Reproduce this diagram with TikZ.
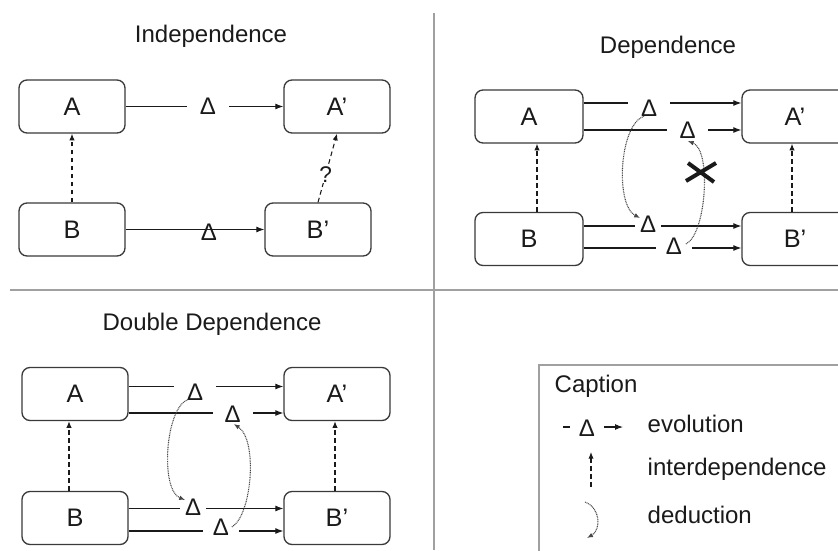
\documentclass[tikz,border=0pt]{standalone}
\usepackage{fontspec}
\setmainfont{Liberation Sans}
\usetikzlibrary{calc,arrows.meta}
\definecolor{ink}{HTML}{1A1A1A}
\definecolor{boxline}{HTML}{3A3A3A}
\definecolor{divgray}{HTML}{A0A0A0}
\tikzset{
  box/.style={draw=boxline, line width=1pt, rounded corners=6pt, minimum width=79.5pt, minimum height=39.75pt, inner sep=0pt, font=\fontsize{19}{19}\selectfont, text=ink},
  ttl/.style={anchor=base, font=\fontsize{18}{18}\selectfont, text=ink},
  evo/.style={draw=ink, line width=0.8pt, -{Latex[length=6pt,width=4.5pt]}},
  dl/.style={fill=white, inner ysep=1pt, font=\fontsize{18}{18}\selectfont, text=ink},
  dep/.style={draw=ink, line width=0.8pt, dash pattern=on 3.5pt off 2.5pt, -{Latex[length=5pt,width=4pt]}},
  ded/.style={draw=gray!55!black, line width=0.8pt, dash pattern=on 0.7pt off 0.6pt, -{Latex[length=4.5pt,width=3.5pt]}},
  lgd/.style={anchor=base west, font=\fontsize{18}{18}\selectfont, text=ink},
  divider/.style={draw=divgray, line width=1.1pt},
}
\begin{document}
\begin{tikzpicture}[x=0.75pt,y=-0.75pt]
\useasboundingbox (0,0) rectangle (838,550);
\clip (0,0) rectangle (838,550);
\fill[white] (0,0) rectangle (838,550);

% dividers
\draw[divider] (434,13) -- (434,550);
\draw[divider] (10,290) -- (838,290);

% ---------- Panel 1: Independence ----------
\node[ttl] (t1) at (211,42) {Independence};
\node[box] (A1) at (72,106.5) {A};
\node[box] (Ap1) at (337,106.5) {A’};
\node[box] (B1) at (72,229.5) {B};
\node[box] (Bp1) at (318,229.5) {B’};
\draw[evo] (A1.east) -- (Ap1.west) node[dl, pos=0.522, inner xsep=9.5pt] (e1) {Δ};
\draw[evo] (B1.east) -- (Bp1.west) node[dl, fill=none, pos=0.6, yshift=-1.9pt] (e2) {Δ};
\draw[dep] (B1.north) -- (A1.south);
\draw[dep] (Bp1.north) -- (Ap1.south) node[pos=0.41, fill=white, inner sep=1pt, font=\fontsize{17}{17}\selectfont, text=ink] (q) {?};

% ---------- Panel 2: Dependence ----------
\node[ttl] (t2) at (668,53) {Dependence};
\node[box, minimum width=81pt] (A2) at (529,116.5) {A};
\node[box] (Ap2) at (795,116.5) {A’};
\node[box, minimum width=81pt] (B2) at (529,239) {B};
\node[box] (Bp2) at (795,239) {B’};
\draw[evo] ($(A2.east)+(0,-13.5)$) -- ($(Ap2.west)+(0,-13.5)$) node[dl, pos=0.415, yshift=-3.75pt, inner xsep=9.9pt] (d21) {Δ};
\draw[evo] ($(A2.east)+(0,13.5)$) -- ($(Ap2.west)+(0,13.5)$) node[dl, pos=0.66, yshift=-0.4pt, inner xsep=9.5pt] (d22) {Δ};
\draw[evo] ($(B2.east)+(0,-13)$) -- ($(Bp2.west)+(0,-13)$) node[dl, pos=0.409, yshift=1.1pt, inner xsep=3.5pt] (d23) {Δ};
\draw[evo] ($(B2.east)+(0,9)$) -- ($(Bp2.west)+(0,9)$) node[dl, pos=0.572, yshift=1.5pt, inner xsep=7.6pt] (d24) {Δ};
\draw[dep] ($(B2.north)+(8,0)$) -- ($(A2.south)+(8,0)$);
\draw[dep] ($(Bp2.north)+(-3,0)$) -- ($(Ap2.south)+(-3,0)$);
\draw[ded] ($(d21.center)+(-5,8)$) .. controls (619,125) and (615,205) .. ($(d23.center)+(-8,-6.5)$);
\draw[ded] ($(d24.center)+(12,-2)$) .. controls (706,235) and (712,150) .. ($(d22.center)+(0,10.5)$);
\draw[ink, line width=3pt] (686,181) -- (716,163) (688,163) -- (714,182);

% ---------- Panel 3: Double Dependence ----------
\node[ttl] (t3) at (212,330) {Double Dependence};
\node[box] (A3) at (75,394) {A};
\node[box] (Ap3) at (337,394) {A’};
\node[box] (B3) at (75,518) {B};
\node[box] (Bp3) at (337,518) {B’};
\draw[evo] ($(A3.east)+(0,-7.5)$) -- ($(Ap3.west)+(0,-7.5)$) node[dl, pos=0.429, yshift=-4.1pt, inner xsep=9.5pt] (d31) {Δ};
\draw[evo] ($(A3.east)+(0,19)$) -- ($(Ap3.west)+(0,19)$) node[dl, pos=0.673, yshift=-0.75pt, inner xsep=9pt] (d32) {Δ};
\draw[evo] ($(B3.east)+(0,-9.5)$) -- ($(Bp3.west)+(0,-9.5)$) node[dl, pos=0.417, yshift=0.75pt, inner xsep=3.9pt] (d33) {Δ};
\draw[evo] ($(B3.east)+(0,13)$) -- ($(Bp3.west)+(0,13)$) node[dl, pos=0.596, yshift=2.6pt, inner xsep=7.25pt] (d34) {Δ};
\draw[dep] ($(B3.north)+(-6,0)$) -- ($(A3.south)+(-6,0)$);
\draw[dep] ($(Bp3.north)+(-2,0)$) -- ($(Ap3.south)+(-2,0)$);
\draw[ded] ($(d31.center)+(-7,7.5)$) .. controls (165,408) and (160,490) .. ($(d33.center)+(-8,-7.5)$);
\draw[ded] ($(d34.center)+(11,-0.5)$) .. controls (252,515) and (258,440) .. ($(d32.center)+(1,10)$);

% ---------- Caption ----------
\draw[draw=divgray, line width=1.1pt] (539,365) rectangle (900,600);
\node[lgd] (cap) at (550,392) {Caption};
\coordinate (l1a) at (563,427);
\coordinate (l1b) at (623,427);
\draw[evo] (l1a) -- (l1b) node[dl, pos=0.4, yshift=-1.1pt, inner xsep=6.5pt] (ld) {Δ};
\node[lgd] (lev) at (643,432) {evolution};
\coordinate (l2a) at (591,487);
\coordinate (l2b) at (591,452);
\draw[dep] (l2a) -- (l2b);
\node[lgd] (lin) at (643,475) {interdependence};
\coordinate (l3a) at (585,502);
\coordinate (l3b) at (587,538);
\draw[ded] (l3a) .. controls (601,508) and (601,530) .. (l3b);
\node[lgd] (lde) at (643,523) {deduction};
\end{tikzpicture}
\end{document}
